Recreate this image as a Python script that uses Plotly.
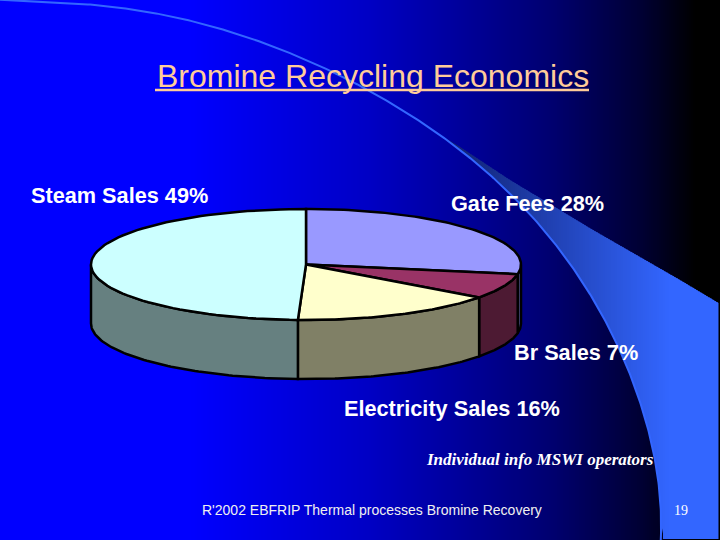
import numpy as np
import plotly.graph_objects as go

# ---- data ----
slice_names = ["Gate Fees", "Br Sales", "Electricity Sales", "Steam Sales"]
slice_values = [27.8, 7.3, 15.5, 49.4]
top_colors = ["#9999FF", "#993366", "#FFFFCC", "#CCFFFF"]
side_colors = ["#4C4C80", "#4D1A33", "#808066", "#668080"]
label_texts = ["Gate Fees 28%", "Br Sales 7%", "Electricity Sales 16%", "Steam Sales 49%"]
title_text = "Bromine Recycling Economics"
note_text = "Individual info MSWI operators"
footer_text = "R'2002 EBFRIP Thermal processes Bromine Recovery"
page_text = "19"

# ---- pie geometry (pixels) ----
CX, CY, RX, RY, DEPTH = 306, 264.5, 215, 55.5, 59

fig = go.Figure()

# ---- background gradient ----
bg_x = np.arange(0, 722, 2)
bg_blue = np.interp(bg_x, [0, 190, 367, 460, 551, 643, 695, 720],
                    [255, 255, 197, 155, 112, 50, 0, 0])
fig.add_trace(go.Heatmap(
    x=bg_x, y=[0, 540], z=[bg_blue, bg_blue],
    colorscale=[[0, "#000000"], [1, "#0000FF"]], zmin=0, zmax=255,
    showscale=False, hoverinfo="skip"))

# ---- swoosh ----
low_x = [0, 20, 67, 133, 233, 300, 360, 443, 507, 547, 587, 603, 627, 647, 657, 661]
low_y = [0, 0, 3, 10, 32, 57, 87, 137, 190, 233, 290, 320, 365, 420, 480, 540]
up_x = [443, 457, 510, 593, 680, 718.5]
up_y = [137, 145, 180, 230, 280, 303]
# smooth the read-off inner edge along its chord length
chord = np.r_[0, np.cumsum(np.hypot(np.diff(low_x), np.diff(low_y)))]
chord = chord / chord[-1]
dense = np.linspace(0, 1, 400)
edge_x = np.polyval(np.polyfit(chord, low_x, 7), dense)
edge_y = np.polyval(np.polyfit(chord, low_y, 7), dense)
edge_end = edge_x.max()
xs = np.arange(443, 718.5, 2.0)
tip = np.array([16, 32, 110])
full = np.array([51, 102, 255])
order = np.argsort(edge_x)
for x0 in xs:
    x1 = min(x0 + 3, 718.5)
    sx = np.array([x0, x1])
    top = np.interp(sx, up_x, up_y)
    bot = np.interp(sx, edge_x[order], edge_y[order])
    bot = np.where(sx >= edge_end, 539, bot)
    t = np.clip((x0 - 443) / 225, 0, 1)
    c = (tip + (full - tip) * t).astype(int)
    fig.add_trace(go.Scatter(
        x=[sx[0], sx[1], sx[1], sx[0]], y=[top[0], top[1], bot[1], bot[0]],
        fill="toself", fillcolor=f"rgb({c[0]},{c[1]},{c[2]})", mode="none",
        hoverinfo="skip", showlegend=False))
fig.add_trace(go.Scatter(x=edge_x, y=edge_y, mode="lines", hoverinfo="skip", showlegend=False,
                         line=dict(color="#3366FF", width=2)))

# ---- 3-D pie built from the values ----
fractions = np.array(slice_values) / sum(slice_values)
edges = np.concatenate([[0], np.cumsum(fractions)]) * 2 * np.pi


def rim(a0, a1, n=80):
    a = np.linspace(a0, a1, n)
    return CX + RX * np.sin(a), CY - RY * np.cos(a)


def add_poly(x, y, color):
    fig.add_trace(go.Scatter(x=x, y=y, fill="toself", fillcolor=color, mode="lines",
                             line=dict(color="#000000", width=2.5), hoverinfo="skip",
                             showlegend=False))


# visible side walls: only the front half of the rim
for i, color in enumerate(side_colors):
    a0 = max(edges[i], np.pi / 2)
    a1 = min(edges[i + 1], 3 * np.pi / 2)
    if a1 > a0:
        rx, ry = rim(a0, a1)
        add_poly(np.r_[rx, rx[::-1], rx[0]], np.r_[ry, ry[::-1] + DEPTH, ry[0]], color)

# top face wedges
for i, color in enumerate(top_colors):
    rx, ry = rim(edges[i], edges[i + 1])
    add_poly(np.r_[CX, rx, CX], np.r_[CY, ry, CY], color)

# title underline
fig.add_trace(go.Scatter(x=[155, 589], y=[90, 90], mode="lines", hoverinfo="skip",
                         showlegend=False, line=dict(color="#FFCC99", width=2.5)))

# ---- texts ----
sans = "Liberation Sans, Arial, sans-serif"
serif = "Liberation Serif, Times New Roman, serif"


def put(x, y, text, size, color="#FFFFFF", family=sans):
    fig.add_annotation(x=x, y=y, text=text, showarrow=False, xanchor="left", yanchor="middle",
                       xref="x", yref="y", font=dict(size=size, color=color, family=family))


put(154.5, 76, title_text, 32, "#FFCC99")
put(29, 195, f"<b>{label_texts[3]}</b>", 21.7)
put(449, 203, f"<b>{label_texts[0]}</b>", 21.7)
put(512, 352, f"<b>{label_texts[1]}</b>", 21.7)
put(342, 408.5, f"<b>{label_texts[2]}</b>", 21.7)
put(424, 459, f"<b><i>{note_text}</i></b>", 17, family=serif)
put(200, 510, footer_text, 14, "#F0F0F0")
put(672, 510, page_text, 14, "#FFFFFF", serif)

fig.update_layout(
    width=720, height=540, margin=dict(l=0, r=0, t=0, b=0),
    paper_bgcolor="#000000", plot_bgcolor="#000000", showlegend=False,
    xaxis=dict(range=[0, 720], visible=False, fixedrange=True),
    yaxis=dict(range=[540, 0], visible=False, fixedrange=True),
)
fig.write_html("out.html", config={"displayModeBar": False},
               post_script="document.body.style.margin='0';document.body.style.overflow='hidden';")
